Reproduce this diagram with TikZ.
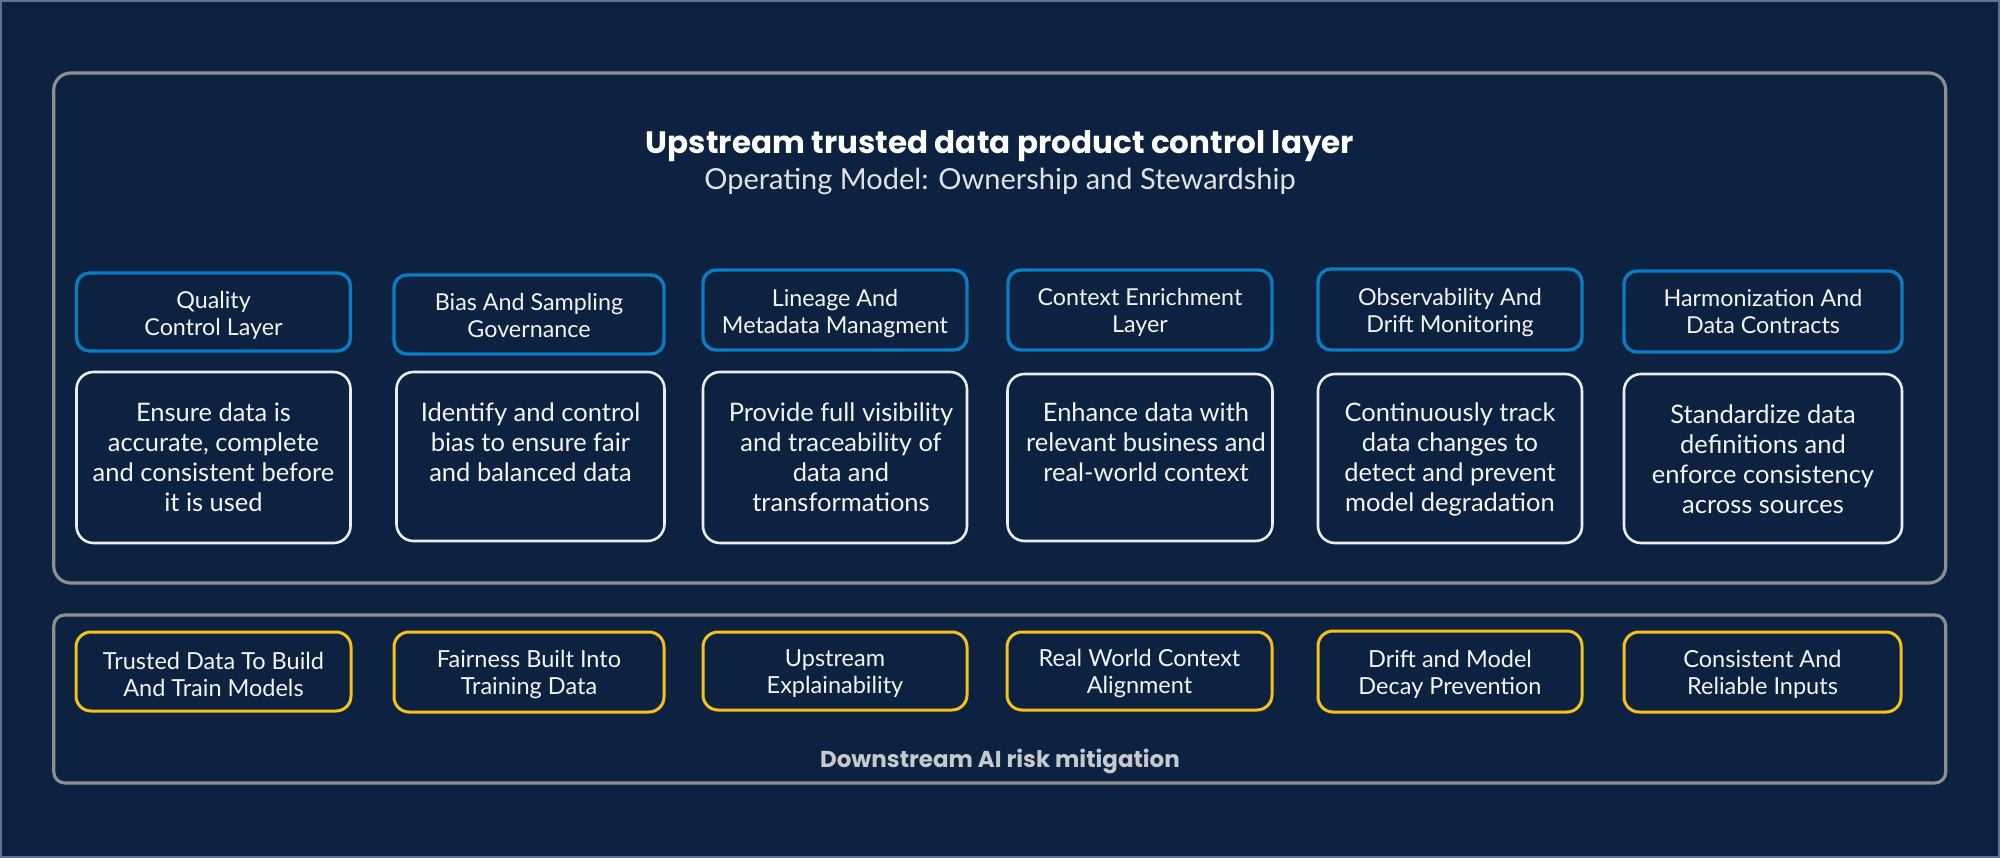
\documentclass[tikz,border=0pt]{standalone}
\usepackage{fontspec}
\setmainfont{Lato}
\newfontfamily\poppins{Poppins}
\definecolor{bg}{HTML}{0C2240}
\definecolor{panelgray}{HTML}{8E8E8E}
\definecolor{hblue}{HTML}{0A7CC1}
\definecolor{ylw}{HTML}{F4C21C}
\definecolor{wline}{HTML}{ECECEC}
\definecolor{edgecol}{HTML}{5B7396}
\definecolor{txt}{HTML}{F4F4F4}
\definecolor{subtxt}{HTML}{E2E2E2}
\definecolor{downtxt}{HTML}{C6CACF}
\tikzset{
  panel/.style={draw=panelgray, line width=3.2pt, rounded corners=#1, inner sep=0pt},
  hdrbox/.style={draw=hblue, line width=3.4pt, rounded corners=13pt, inner sep=0pt},
  hdrtext/.style={inner sep=0pt, align=center, text=txt, font=\fontsize{23.3}{26.7}\selectfont},
  descbox/.style={draw=wline, line width=2.6pt, rounded corners=17pt, inner sep=0pt},
  desctext/.style={anchor=north, inner sep=0pt, align=center, text=txt, font=\fontsize{25.5}{29.9}\selectfont},
  ybox/.style={draw=ylw, line width=3pt, rounded corners=15pt, inner sep=0pt},
  ytext/.style={inner sep=0pt, align=center, text=txt, font=\fontsize{23.5}{27}\selectfont},
}
\begin{document}
\begin{tikzpicture}[x=1pt,y=-1pt]
\useasboundingbox (0,0) rectangle (2000,858);
\fill[bg] (0,0) rectangle (2000,858);
\draw[edgecol, line width=2pt] (1,1) rectangle (1999,857);

% panels
\node[panel=17pt, minimum width=1892pt, minimum height=510pt] (upper) at (999.75,328) {};
\node[panel=11pt, minimum width=1892pt, minimum height=168pt] (lower) at (999.75,699) {};

% titles
\node[anchor=base, inner sep=0pt, text=white, font=\poppins\bfseries\fontsize{31}{36}\selectfont] (title) at (1000,154) {Upstream trusted data product control layer};
\node[anchor=base, inner sep=0pt, text=subtxt, font=\fontsize{29}{34}\selectfont] (subtitle) at (1000,190) {Operating Model: Ownership and Stewardship};

% header boxes
\node[hdrbox, minimum width=274pt, minimum height=78pt] (h1) at (213.5,312) {};
\node[hdrbox, minimum width=270pt, minimum height=79pt] (h2) at (529,314.5) {};
\node[hdrbox, minimum width=264pt, minimum height=80pt] (h3) at (835,310) {};
\node[hdrbox, minimum width=264pt, minimum height=80pt] (h4) at (1140,310) {};
\node[hdrbox, minimum width=264pt, minimum height=81pt] (h5) at (1450,309.5) {};
\node[hdrbox, minimum width=278pt, minimum height=81pt] (h6) at (1763,311.5) {};
\node[hdrtext] (h1t) at ([yshift=-3.5pt]h1.center) {Quality\\Control Layer};
\node[hdrtext] (h2t) at ([yshift=-1pt]h2.center) {Bias And Sampling\\Governance};
\node[hdrtext] (h3t) at ([yshift=-3.5pt]h3.center) {Lineage And\\Metadata Managment};
\node[hdrtext] (h4t) at ([yshift=-2.5pt]h4.center) {Context Enrichment\\Layer};
\node[hdrtext] (h5t) at ([yshift=-3pt]h5.center) {Observability And\\Drift Monitoring};
\node[hdrtext] (h6t) at ([yshift=0pt]h6.center) {Harmonization And\\Data Contracts};

% description boxes
\node[descbox, minimum width=274pt, minimum height=171pt] (d1) at (213.5,457.5) {};
\node[descbox, minimum width=268pt, minimum height=169pt] (d2) at (530.5,456.5) {};
\node[descbox, minimum width=264pt, minimum height=171pt] (d3) at (835,457.5) {};
\node[descbox, minimum width=265pt, minimum height=167pt] (d4) at (1140,457.5) {};
\node[descbox, minimum width=264pt, minimum height=169pt] (d5) at (1450,458.5) {};
\node[descbox, minimum width=278pt, minimum height=169pt] (d6) at (1763,458.5) {};

\node[desctext] (t1) at ([yshift=-32pt]d1.north) {Ensure data is\\accurate, complete\\and consistent before\\it is used};
\node[desctext] (t2) at ([yshift=-32pt]d2.north) {Identify and control\\bias to ensure fair\\and balanced data};
\node[desctext] (t3) at ([yshift=-32pt, xshift=6pt]d3.north) {Provide full visibility\\and traceability of\\data and\\transformations};
\node[desctext] (t4) at ([yshift=-30pt, xshift=6pt]d4.north) {Enhance data with\\relevant business and\\real-world context};
\node[desctext] (t5) at ([yshift=-30pt]d5.north) {Continuously track\\data changes to\\detect and prevent\\model degradation};
\node[desctext] (t6) at ([yshift=-32pt]d6.north) {Standardize data\\definitions and\\enforce consistency\\across sources};

% downstream boxes
\node[ybox, minimum width=275pt, minimum height=79pt] (y1) at (213.5,671.5) {};
\node[ybox, minimum width=270pt, minimum height=80pt] (y2) at (529,672) {};
\node[ybox, minimum width=264pt, minimum height=78pt] (y3) at (835,671) {};
\node[ybox, minimum width=265pt, minimum height=78pt] (y4) at (1139.5,671) {};
\node[ybox, minimum width=264pt, minimum height=81pt] (y5) at (1450,671.5) {};
\node[ybox, minimum width=277pt, minimum height=80pt] (y6) at (1762.5,672) {};
\node[ytext] (y1t) at ([yshift=-2.5pt]y1.center) {Trusted Data To Build\\And Train Models};
\node[ytext] (y2t) at ([yshift=-2.5pt]y2.center) {Fairness Built Into\\Training Data};
\node[ytext] (y3t) at ([yshift=-2.5pt]y3.center) {Upstream\\Explainability};
\node[ytext] (y4t) at ([yshift=-2.5pt]y4.center) {Real World Context\\Alignment};
\node[ytext] (y5t) at ([yshift=-2.5pt]y5.center) {Drift and Model\\Decay Prevention};
\node[ytext] (y6t) at ([yshift=-2.5pt]y6.center) {Consistent And\\Reliable Inputs};

\node[anchor=base, inner sep=0pt, text=downtxt, font=\poppins\bfseries\fontsize{23}{27}\selectfont] (down) at (1000,767) {Downstream AI risk mitigation};
\end{tikzpicture}
\end{document}
